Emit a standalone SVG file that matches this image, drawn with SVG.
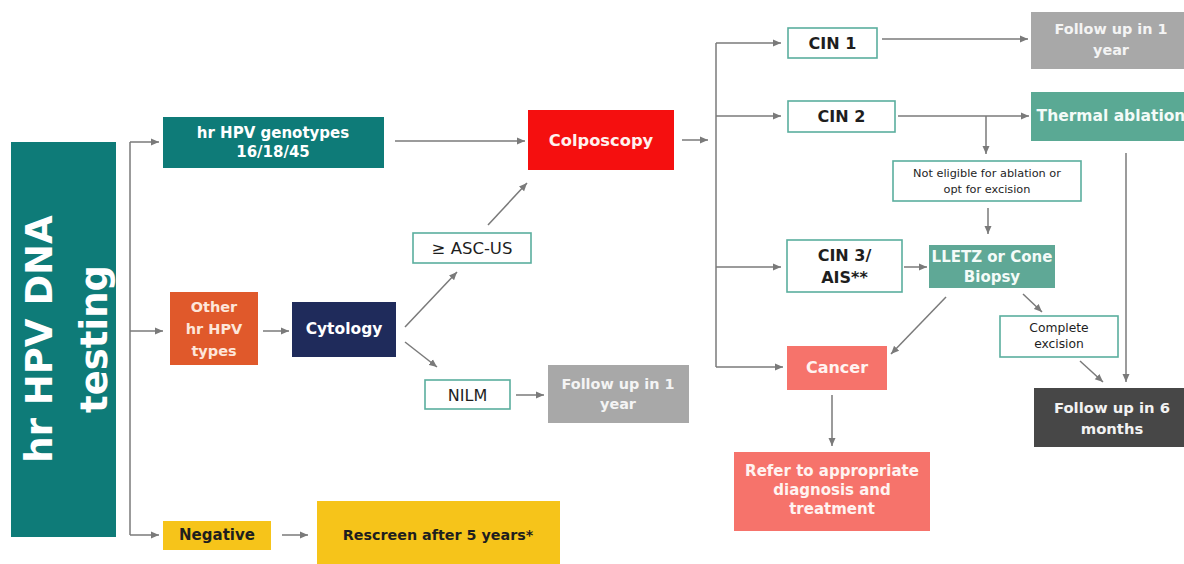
<svg xmlns="http://www.w3.org/2000/svg" width="1184" height="564" viewBox="0 0 1184 564">
<style>
text{font-family:"DejaVu Sans","Liberation Sans",sans-serif;text-anchor:middle;dominant-baseline:central}
.b{font-weight:bold}
.w{fill:#ffffff}
.d{fill:#1e1e1e}
.ob{fill:#ffffff;stroke:#5aae9e;stroke-width:1.6}
.c{fill:none;stroke:#7a7a7a;stroke-width:1.5;marker-end:url(#ah)}
.cl{fill:none;stroke:#7a7a7a;stroke-width:1.5}
</style>
<defs>
<marker id="ah" markerUnits="userSpaceOnUse" markerWidth="9" markerHeight="8" refX="8" refY="4" orient="auto">
<path d="M0,0.5 L8,4 L0,7.5 z" fill="#7a7a7a"/>
</marker>
</defs>
<rect width="1184" height="564" fill="#ffffff"/>
<g id="connectors">
<path class="cl" d="M130,142 V535"/>
<path class="c" d="M130,142 H159"/>
<path class="c" d="M130,331 H163"/>
<path class="c" d="M130,535 H159"/>
<path class="c" d="M263,331 H289"/>
<path class="c" d="M282,535 H308"/>
<path class="c" d="M395,141 H525"/>
<path class="c" d="M488,225 L527,183"/>
<path class="c" d="M405,327 L457,272"/>
<path class="c" d="M405,342 L437,367"/>
<path class="c" d="M516,395 H544"/>
<path class="c" d="M682,140 H708"/>
<path class="cl" d="M716,43 V367"/>
<path class="c" d="M716,43 H781"/>
<path class="c" d="M716,116 H781"/>
<path class="c" d="M716,267 H781"/>
<path class="c" d="M716,367 H783"/>
<path class="c" d="M882,39 H1028"/>
<path class="c" d="M898,116 H1029"/>
<path class="c" d="M986,116 V154"/>
<path class="c" d="M988,208 V234"/>
<path class="c" d="M904,267 H927"/>
<path class="c" d="M946,297 L891,354"/>
<path class="c" d="M1023,294 L1042,312"/>
<path class="c" d="M1080,361 L1103,382"/>
<path class="c" d="M1126,153 V382"/>
<path class="c" d="M832,395 V446"/>
</g>
<g id="hpv-testing">
<rect x="11" y="142" width="105" height="395" fill="#0e7b78"/>
<text class="b w" font-size="37" transform="translate(52,339) rotate(-90)" style="dominant-baseline:auto">hr HPV DNA</text>
<text class="b w" font-size="37" transform="translate(107,339) rotate(-90)" style="dominant-baseline:auto">testing</text>
</g>
<g id="genotypes">
<rect x="163" y="117" width="221" height="51" fill="#0e7b78"/>
<text class="b w" font-size="15" x="273" y="133">hr HPV genotypes</text>
<text class="b w" font-size="15" x="273" y="152">16/18/45</text>
</g>
<g id="other">
<rect x="170" y="292" width="88" height="73" fill="#e0592b"/>
<text class="b" fill="#fde6da" font-size="14.5" x="214" y="307">Other</text>
<text class="b" fill="#fde6da" font-size="14.5" x="214" y="329">hr HPV</text>
<text class="b" fill="#fde6da" font-size="14.5" x="214" y="351">types</text>
</g>
<g id="cytology">
<rect x="292" y="302" width="104" height="55" fill="#1f2b5b"/>
<text class="b w" font-size="15.5" x="344" y="329">Cytology</text>
</g>
<g id="negative">
<rect x="163" y="521" width="108" height="29" fill="#f6c41a"/>
<text class="b d" font-size="15" x="217" y="535">Negative</text>
</g>
<g id="rescreen">
<rect x="317" y="501" width="243" height="70" fill="#f6c41a"/>
<text class="b d" font-size="14.3" x="438" y="535">Rescreen after 5 years*</text>
</g>
<g id="colposcopy">
<rect x="528" y="110" width="146" height="60" fill="#f50f0f"/>
<text class="b" fill="#fff1ee" font-size="16.3" x="601" y="140">Colposcopy</text>
</g>
<g id="ascus">
<rect class="ob" x="413" y="233" width="118" height="30"/>
<text class="d" font-size="16.5" x="472" y="248">≥ ASC-US</text>
</g>
<g id="nilm">
<rect class="ob" x="425" y="380" width="85" height="29"/>
<text class="d" font-size="16" x="467.500" y="395">NILM</text>
</g>
<g id="followup1-nilm">
<rect x="548" y="365" width="141" height="58" fill="#a8a8a8"/>
<text class="b" fill="#f4f4f4" font-size="14.4" x="618" y="384">Follow up in 1</text>
<text class="b" fill="#f4f4f4" font-size="14.4" x="618" y="404">year</text>
</g>
<g id="cin1">
<rect class="ob" x="788" y="28" width="89" height="30"/>
<text class="b d" font-size="16" x="832.500" y="43">CIN 1</text>
</g>
<g id="followup1-cin1">
<rect x="1031" y="12" width="160" height="57" fill="#a8a8a8"/>
<text class="b" fill="#f4f4f4" font-size="14.4" x="1111" y="29">Follow up in 1</text>
<text class="b" fill="#f4f4f4" font-size="14.4" x="1111" y="50">year</text>
</g>
<g id="cin2">
<rect class="ob" x="788" y="101" width="107" height="31"/>
<text class="b d" font-size="16" x="841.500" y="116">CIN 2</text>
</g>
<g id="thermal">
<rect x="1031" y="92" width="160" height="49" fill="#5aa994"/>
<text class="b" fill="#f4fbf8" font-size="15.5" x="1111" y="116">Thermal ablation</text>
</g>
<g id="not-eligible">
<rect class="ob" x="893" y="161" width="188" height="40"/>
<text class="d" font-size="11.3" x="987" y="173">Not eligible for ablation or</text>
<text class="d" font-size="11.3" x="987" y="189">opt for excision</text>
</g>
<g id="cin3">
<rect class="ob" x="787" y="240" width="115" height="52"/>
<text class="b d" font-size="16" x="844.500" y="255">CIN 3/</text>
<text class="b d" font-size="16" x="844.500" y="277">AIS**</text>
</g>
<g id="lletz">
<rect x="929" y="245" width="126" height="43" fill="#5fa896"/>
<text class="b" fill="#f4fbf8" font-size="15" x="992" y="257">LLETZ or Cone</text>
<text class="b" fill="#f4fbf8" font-size="15" x="992" y="277">Biopsy</text>
</g>
<g id="complete-excision">
<rect class="ob" x="1000" y="316" width="118" height="41"/>
<text class="d" font-size="12.3" x="1059" y="328">Complete</text>
<text class="d" font-size="12.3" x="1059" y="344">excision</text>
</g>
<g id="cancer">
<rect x="787" y="346" width="100" height="44" fill="#f6736b"/>
<text class="b" fill="#fff3f1" font-size="16" x="837" y="367">Cancer</text>
</g>
<g id="refer">
<rect x="734" y="452" width="196" height="79" fill="#f6736b"/>
<text class="b" fill="#fff3f1" font-size="15" x="832" y="471">Refer to appropriate</text>
<text class="b" fill="#fff3f1" font-size="15" x="832" y="490">diagnosis and</text>
<text class="b" fill="#fff3f1" font-size="15" x="832" y="509">treatment</text>
</g>
<g id="followup6">
<rect x="1034" y="388" width="157" height="59" fill="#474747"/>
<text class="b" fill="#f2f2f2" font-size="14.8" x="1112" y="407">Follow up in 6</text>
<text class="b" fill="#f2f2f2" font-size="14.8" x="1112" y="428">months</text>
</g>
</svg>
